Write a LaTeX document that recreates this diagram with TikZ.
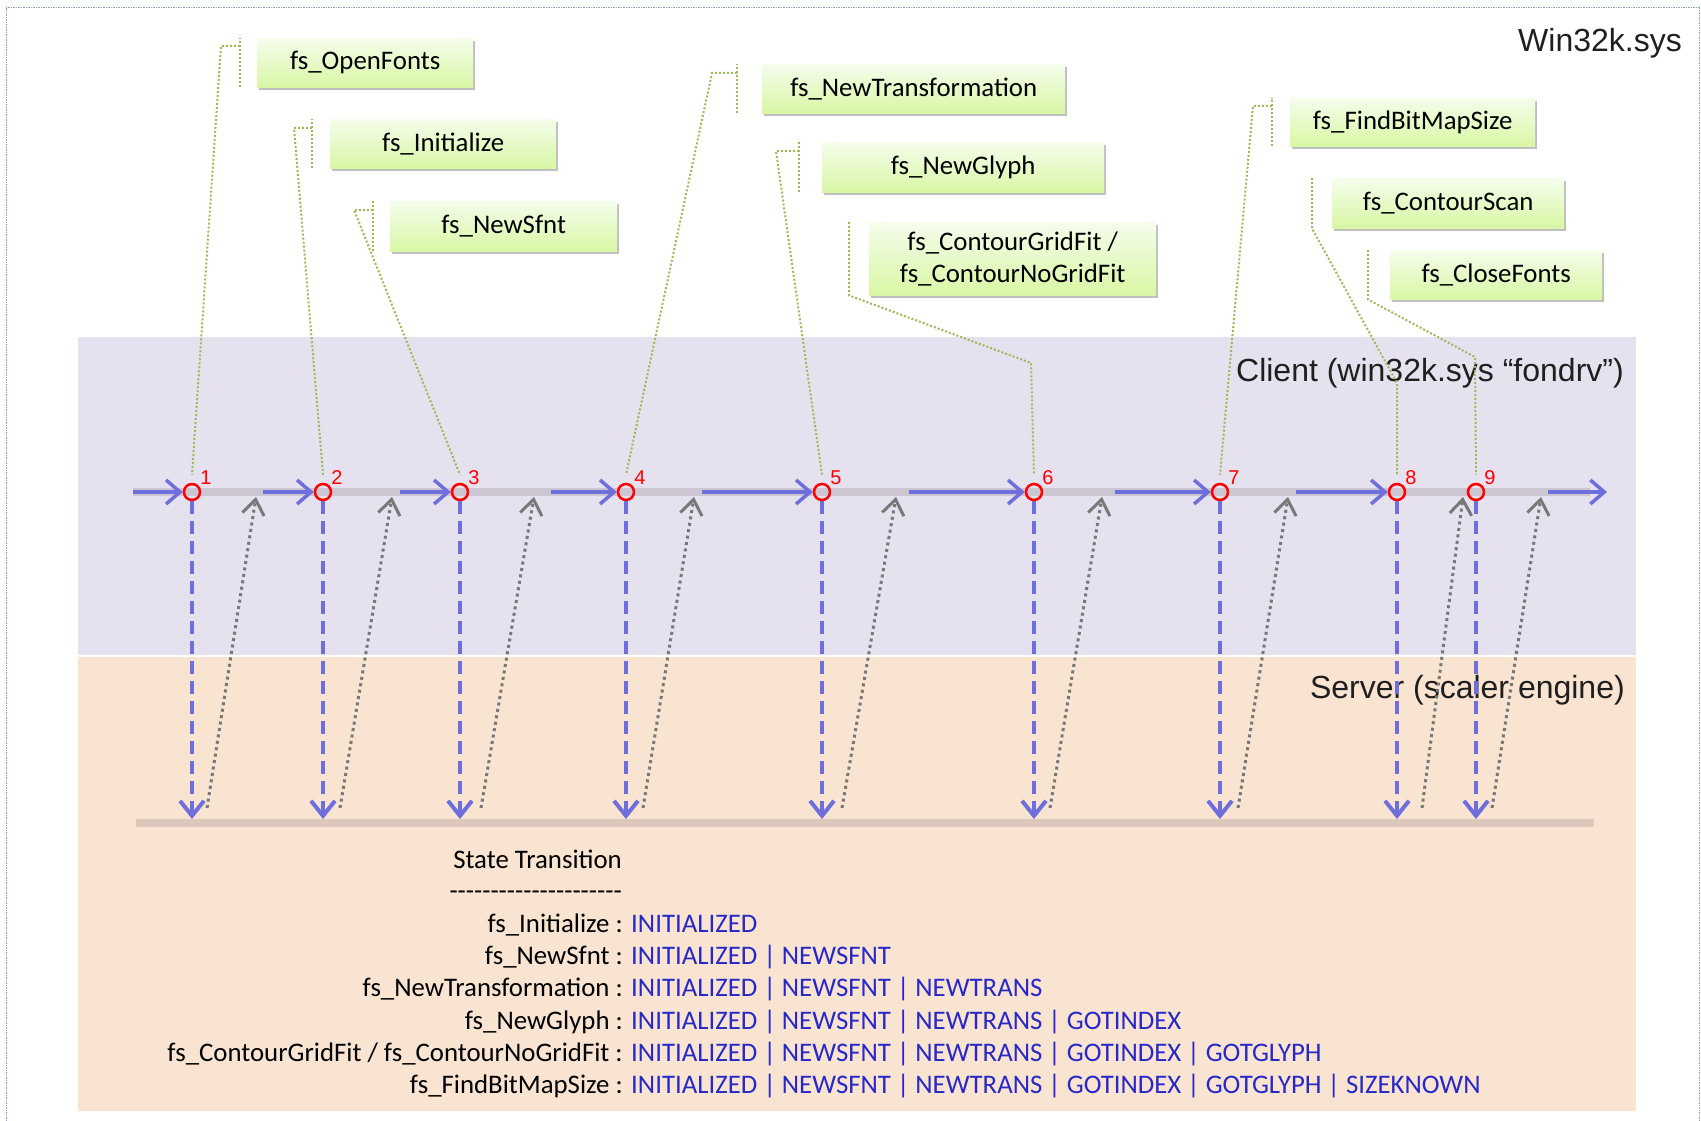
\documentclass[tikz,border=0pt]{standalone}
\usepackage{fontspec}
\setmainfont{Carlito}
\newfontfamily\arialfont{Liberation Sans}
\usetikzlibrary{arrows.meta,shadows,calc}

\definecolor{clientbg}{RGB}{230,225,238}
\definecolor{serverbg}{RGB}{249,228,210}
\definecolor{railgray}{RGB}{204,198,210}
\definecolor{railpeach}{RGB}{221,201,188}
\definecolor{flowblue}{RGB}{110,110,220}
\definecolor{retgray}{RGB}{120,120,120}
\definecolor{leadgreen}{RGB}{155,187,89}
\definecolor{boxtop}{RGB}{245,253,236}
\definecolor{boxbot}{RGB}{216,247,164}
\definecolor{framecol}{RGB}{140,160,195}
\definecolor{stateblue}{RGB}{40,40,200}

% a single hyphen that never joins into an en or em dash
\newcommand{\hy}{\mbox{-}}

\begin{document}
\begin{tikzpicture}[x=1pt,y=-1pt,
  callout/.style={anchor=north west, inner sep=0pt, align=center,
    top color=boxtop, bottom color=boxbot,
    drop shadow={shadow xshift=2pt, shadow yshift=-3pt, opacity=0.25, fill=black},
    font=\fontsize{26.8}{32}\selectfont},
  evt/.style={circle, draw=red, line width=2.5pt, minimum size=16pt, inner sep=0pt},
  num/.style={text=red, inner sep=0pt, font=\arialfont\fontsize{20}{20}\selectfont},
  bandlabel/.style={anchor=east, inner sep=0pt, text=black!88, font=\arialfont\fontsize{32}{36}\selectfont},
  rail/.style={line width=8pt},
  flow/.style={draw=flowblue, line width=3.5pt, -{Straight Barb[length=14pt,width=24pt]}},
  call/.style={draw=flowblue, line width=4pt, dash pattern=on 13pt off 7pt,
    -{Straight Barb[length=15pt,width=24pt]}},
  ret/.style={draw=retgray, line width=3pt, dash pattern=on 3pt off 3.5pt,
    -{Straight Barb[length=15pt,width=22pt]}},
  leader/.style={draw=leadgreen, line width=2pt, dash pattern=on 2pt off 2pt},
  lhs/.style={anchor=base east, inner sep=0pt, font=\fontsize{26.8}{30}\selectfont},
  rhs/.style={anchor=base west, inner sep=0pt, text=stateblue, font=\fontsize{26.8}{30}\selectfont}
]
\useasboundingbox (0,0) rectangle (1701,1121);

% outer frame (open at the bottom)
\draw[framecol, line width=1pt, dash pattern=on 1.5pt off 1pt] (6,1121) -- (6,8) -- (1699,8) -- (1699,1121);

% client and server bands
\fill[clientbg] (78,337) rectangle (1636,655);
\fill[serverbg] (78,657) rectangle (1636,1111);

% band titles
\node[bandlabel] (wsys) at (1682,43) {Win32k.sys};
\node[bandlabel] (cli) at (1624,373) {Client (win32k.sys “fondrv”)};
\node[bandlabel] (srv) at (1625,690) {Server (scaler engine)};

% rails
\coordinate (ra) at (133,492);
\coordinate (rb) at (1590,492);
\draw[rail, railgray] (ra) -- (rb);
\coordinate (sa) at (136,823);
\coordinate (sb) at (1594,823);
\draw[rail, railpeach] (sa) -- (sb);
\coordinate (stop) at (0,819);

% call events on the client rail
\foreach \i/\x in {1/192,2/323,3/460,4/626,5/822,6/1034,7/1220,8/1397,9/1476}{
  \node[evt] (e\i) at (\x,492) {};
  \node[num] (n\i) at (\x+14,478) {\i};
}

% client flow into each call
\coordinate (f1) at (133,492);
\coordinate (f2) at (263,492);
\coordinate (f3) at (400,492);
\coordinate (f4) at (551,492);
\coordinate (f5) at (702,492);
\coordinate (f6) at (909,492);
\coordinate (f7) at (1115,492);
\coordinate (f8) at (1296,492);
\foreach \i in {1,...,8}{ \draw[flow] (f\i) -- (e\i.west); }
\coordinate (fz) at (1548,492);
\coordinate (fend) at (1607,492);
\draw[flow] (fz) -- (fend);

% calls down to the scaler engine
\foreach \i in {1,...,9}{ \draw[call] (e\i.south) -- (e\i |- stop); }

% returns back up to the client rail
\foreach \i/\bx/\tx in {1/207/256,2/340/392,3/481/534,4/643/694,5/842/896,6/1050/1102,7/1238/1288,8/1422/1463,9/1492/1541}{
  \coordinate (rs\i) at (\bx,808);
  \coordinate (rt\i) at (\tx,497);
  \draw[ret] (rs\i) -- (rt\i);
}

% API call labels
\node[callout, minimum width=216pt, minimum height=49pt] (b1) at (257,38) {fs\_OpenFonts};
\node[callout, minimum width=226pt, minimum height=49pt] (b2) at (330,119) {fs\_Initialize};
\node[callout, minimum width=227pt, minimum height=50pt] (b3) at (390,201) {fs\_NewSfnt};
\node[callout, minimum width=303pt, minimum height=49pt] (b4) at (762,64) {fs\_NewTransformation};
\node[callout, minimum width=282pt, minimum height=50pt] (b5) at (822,142) {fs\_NewGlyph};
\node[callout, minimum width=287pt, minimum height=73pt] (b6) at (869,222) {fs\_ContourGridFit /\\fs\_ContourNoGridFit};
\node[callout, minimum width=245pt, minimum height=48pt] (b7) at (1290,98) {fs\_FindBitMapSize};
\node[callout, minimum width=232pt, minimum height=50pt] (b8) at (1332,178) {fs\_ContourScan};
\node[callout, minimum width=212pt, minimum height=49pt] (b9) at (1390,250) {fs\_CloseFonts};

% leaders from the labels to the call events
\foreach \i/\off/\hk/\dy in {1/17/19/8,2/18/18/9,3/17/19/9,4/25/25/9,5/23/23/9,7/18/19/8}{
  \draw[leader] ([xshift=-\off pt]b\i.south west) -- ([xshift=-\off pt]b\i.north west);
  \draw[leader] ([xshift=-\off pt,yshift=-\dy pt]b\i.north west) -- ++(-\hk,0) -- ([yshift=8pt]e\i.north);
}
\coordinate (k6) at (1031,363);
\coordinate (k8) at (1397,383);
\coordinate (k9) at (1475,357);
\draw[leader] ([xshift=-20pt]b6.north west) -- ([xshift=-20pt]b6.south west) -- (k6) -- ([yshift=8pt]e6.north);
\draw[leader] ([xshift=-20pt]b8.north west) -- ([xshift=-20pt]b8.south west) -- (k8) -- ([yshift=8pt]e8.north);
\draw[leader] ([xshift=-22pt]b9.north west) -- ([xshift=-22pt]b9.south west) -- (k9) -- ([yshift=8pt]e9.north);

% state transition table
\node[lhs] (sth) at (622,868) {State Transition};
\node[lhs] (std) at (622,899) {\hy\hy\hy\hy\hy\hy\hy\hy\hy\hy\hy\hy\hy\hy\hy\hy\hy\hy\hy\hy\hy};
\node[lhs] (l1) at (623,932) {fs\_Initialize :};
\node[rhs] (v1) at (631,932) {INITIALIZED};
\node[lhs] (l2) at (623,964) {fs\_NewSfnt :};
\node[rhs] (v2) at (631,964) {INITIALIZED | NEWSFNT};
\node[lhs] (l3) at (623,996) {fs\_NewTransformation :};
\node[rhs] (v3) at (631,996) {INITIALIZED | NEWSFNT | NEWTRANS};
\node[lhs] (l4) at (623,1029) {fs\_NewGlyph :};
\node[rhs] (v4) at (631,1029) {INITIALIZED | NEWSFNT | NEWTRANS | GOTINDEX};
\node[lhs] (l5) at (623,1061) {fs\_ContourGridFit / fs\_ContourNoGridFit :};
\node[rhs] (v5) at (631,1061) {INITIALIZED | NEWSFNT | NEWTRANS | GOTINDEX | GOTGLYPH};
\node[lhs] (l6) at (623,1093) {fs\_FindBitMapSize :};
\node[rhs] (v6) at (631,1093) {INITIALIZED | NEWSFNT | NEWTRANS | GOTINDEX | GOTGLYPH | SIZEKNOWN};
\end{tikzpicture}
\end{document}
